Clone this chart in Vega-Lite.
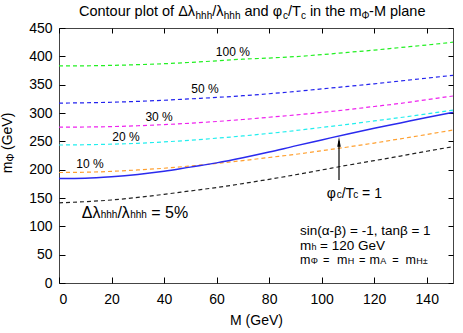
{
  "$schema": "https://vega.github.io/schema/vega-lite/v6.json",
  "width": 394,
  "height": 255,
  "autosize": {"type": "none"},
  "padding": {"left": 59, "top": 28, "right": 10, "bottom": 50},
  "background": "white",
  "config": {
    "view": {"stroke": "#444", "strokeWidth": 1},
    "text": {"font": "Liberation Sans", "color": "#000"}
  },
  "datasets": {
    "curves": [
      {"c": "100%", "M": 0, "V": 383}, {"c": "100%", "M": 10, "V": 383.3}, {"c": "100%", "M": 20, "V": 384}, {"c": "100%", "M": 30, "V": 385.3}, {"c": "100%", "M": 40, "V": 387}, {"c": "100%", "M": 50, "V": 389.3}, {"c": "100%", "M": 60, "V": 392}, {"c": "100%", "M": 70, "V": 395}, {"c": "100%", "M": 80, "V": 397}, {"c": "100%", "M": 90, "V": 399.5}, {"c": "100%", "M": 100, "V": 403}, {"c": "100%", "M": 110, "V": 407}, {"c": "100%", "M": 120, "V": 411}, {"c": "100%", "M": 130, "V": 415.5}, {"c": "100%", "M": 140, "V": 420}, {"c": "100%", "M": 150, "V": 425},
      {"c": "50%", "M": 0, "V": 317.5}, {"c": "50%", "M": 10, "V": 318}, {"c": "50%", "M": 20, "V": 319}, {"c": "50%", "M": 30, "V": 320.5}, {"c": "50%", "M": 40, "V": 322.5}, {"c": "50%", "M": 50, "V": 325}, {"c": "50%", "M": 60, "V": 327.5}, {"c": "50%", "M": 70, "V": 330.5}, {"c": "50%", "M": 80, "V": 334}, {"c": "50%", "M": 90, "V": 338}, {"c": "50%", "M": 100, "V": 342.5}, {"c": "50%", "M": 110, "V": 347}, {"c": "50%", "M": 120, "V": 351.5}, {"c": "50%", "M": 130, "V": 356.5}, {"c": "50%", "M": 140, "V": 361.5}, {"c": "50%", "M": 150, "V": 366.5},
      {"c": "30%", "M": 0, "V": 275}, {"c": "30%", "M": 10, "V": 275.3}, {"c": "30%", "M": 20, "V": 276}, {"c": "30%", "M": 30, "V": 277.5}, {"c": "30%", "M": 40, "V": 279.5}, {"c": "30%", "M": 50, "V": 282}, {"c": "30%", "M": 60, "V": 285}, {"c": "30%", "M": 70, "V": 288.5}, {"c": "30%", "M": 80, "V": 292.5}, {"c": "30%", "M": 90, "V": 296.5}, {"c": "30%", "M": 100, "V": 301}, {"c": "30%", "M": 110, "V": 306}, {"c": "30%", "M": 120, "V": 311.5}, {"c": "30%", "M": 130, "V": 317}, {"c": "30%", "M": 140, "V": 323.5}, {"c": "30%", "M": 150, "V": 330},
      {"c": "20%", "M": 0, "V": 243.5}, {"c": "20%", "M": 10, "V": 244}, {"c": "20%", "M": 20, "V": 245}, {"c": "20%", "M": 30, "V": 246.5}, {"c": "20%", "M": 40, "V": 249}, {"c": "20%", "M": 50, "V": 252}, {"c": "20%", "M": 60, "V": 255.5}, {"c": "20%", "M": 70, "V": 259.5}, {"c": "20%", "M": 80, "V": 264}, {"c": "20%", "M": 90, "V": 269}, {"c": "20%", "M": 100, "V": 274.5}, {"c": "20%", "M": 110, "V": 280}, {"c": "20%", "M": 120, "V": 286}, {"c": "20%", "M": 130, "V": 292}, {"c": "20%", "M": 140, "V": 298.5}, {"c": "20%", "M": 150, "V": 305},
      {"c": "10%", "M": 0, "V": 195}, {"c": "10%", "M": 10, "V": 195.5}, {"c": "10%", "M": 20, "V": 197}, {"c": "10%", "M": 30, "V": 199.5}, {"c": "10%", "M": 40, "V": 202.5}, {"c": "10%", "M": 50, "V": 206.5}, {"c": "10%", "M": 60, "V": 211}, {"c": "10%", "M": 70, "V": 216}, {"c": "10%", "M": 80, "V": 221.5}, {"c": "10%", "M": 90, "V": 227}, {"c": "10%", "M": 100, "V": 233.5}, {"c": "10%", "M": 110, "V": 240}, {"c": "10%", "M": 120, "V": 247}, {"c": "10%", "M": 130, "V": 254.5}, {"c": "10%", "M": 140, "V": 262}, {"c": "10%", "M": 150, "V": 270},
      {"c": "5%", "M": 0, "V": 141.5}, {"c": "5%", "M": 10, "V": 143.5}, {"c": "5%", "M": 20, "V": 146.5}, {"c": "5%", "M": 30, "V": 151}, {"c": "5%", "M": 40, "V": 156.5}, {"c": "5%", "M": 50, "V": 162.5}, {"c": "5%", "M": 60, "V": 168.5}, {"c": "5%", "M": 70, "V": 175.5}, {"c": "5%", "M": 80, "V": 183}, {"c": "5%", "M": 90, "V": 191}, {"c": "5%", "M": 100, "V": 199.5}, {"c": "5%", "M": 110, "V": 208}, {"c": "5%", "M": 120, "V": 216}, {"c": "5%", "M": 130, "V": 224}, {"c": "5%", "M": 140, "V": 232.5}, {"c": "5%", "M": 150, "V": 240.5},
      {"c": "phi", "M": 0, "V": 184.5}, {"c": "phi", "M": 10, "V": 185}, {"c": "phi", "M": 20, "V": 187.5}, {"c": "phi", "M": 30, "V": 191.5}, {"c": "phi", "M": 40, "V": 197}, {"c": "phi", "M": 50, "V": 204.5}, {"c": "phi", "M": 60, "V": 212}, {"c": "phi", "M": 70, "V": 221}, {"c": "phi", "M": 80, "V": 231}, {"c": "phi", "M": 90, "V": 242}, {"c": "phi", "M": 100, "V": 252.5}, {"c": "phi", "M": 110, "V": 263}, {"c": "phi", "M": 120, "V": 273}, {"c": "phi", "M": 130, "V": 282.5}, {"c": "phi", "M": 140, "V": 292}, {"c": "phi", "M": 150, "V": 301}
    ]
  },
  "layer": [
    {
      "data": {"name": "curves"},
      "transform": [{"filter": "datum.c != 'phi'"}],
      "mark": {"type": "line", "strokeDash": [4, 3], "strokeWidth": 1.2, "interpolate": "monotone"},
      "encoding": {
        "x": {"field": "M", "type": "quantitative", "scale": {"domain": [0, 150], "nice": false, "zero": false},
          "axis": {"orient": "bottom", "values": [0, 20, 40, 60, 80, 100, 120, 140], "tickSize": -6, "labelPadding": 15, "domain": false, "grid": false, "labelFont": "Liberation Sans", "labelFontSize": 14, "labelColor": "#000", "tickColor": "#000", "title": "M (GeV)", "titleFont": "Liberation Sans", "titleFontSize": 14, "titleFontWeight": "normal", "titleColor": "#000", "titlePadding": 7}},
        "y": {"field": "V", "type": "quantitative", "scale": {"domain": [0, 450], "nice": false, "zero": false},
          "axis": {"orient": "left", "values": [0, 50, 100, 150, 200, 250, 300, 350, 400, 450], "tickSize": -6, "labelPadding": 13, "domain": false, "grid": false, "labelFont": "Liberation Sans", "labelFontSize": 14, "labelColor": "#000", "tickColor": "#000", "title": null}},
        "color": {"field": "c", "type": "nominal", "scale": {"domain": ["100%", "50%", "30%", "20%", "10%", "5%"], "range": ["#22f022", "#2222ee", "#ee22ee", "#22eeee", "#ffa030", "#222222"]}, "legend": null}
      }
    },
    {
      "data": {"name": "curves"},
      "transform": [{"filter": "datum.c == 'phi'"}],
      "mark": {"type": "line", "color": "#2a2aee", "strokeWidth": 1.5, "interpolate": "monotone"},
      "encoding": {
        "x": {"field": "M", "type": "quantitative", "scale": {"domain": [0, 150], "nice": false, "zero": false},
          "axis": {"orient": "top", "values": [0, 20, 40, 60, 80, 100, 120, 140], "tickSize": -5, "labels": false, "domain": false, "grid": false, "tickColor": "#000", "title": null}},
        "y": {"field": "V", "type": "quantitative", "scale": {"domain": [0, 450], "nice": false, "zero": false},
          "axis": {"orient": "right", "values": [0, 50, 100, 150, 200, 250, 300, 350, 400, 450], "tickSize": -5, "labels": false, "domain": false, "grid": false, "tickColor": "#000", "title": null}}
      }
    },
    {
      "data": {"values": [{"M": 106.6, "V1": 181.8, "V2": 250}]},
      "mark": {"type": "rule", "color": "#000", "strokeWidth": 1.2},
      "encoding": {
        "x": {"field": "M", "type": "quantitative", "axis": null},
        "y": {"field": "V1", "type": "quantitative", "axis": null},
        "y2": {"field": "V2"}
      }
    },
    {
      "data": {"values": [{"M": 106.6, "V": 249.4}]},
      "mark": {"type": "point", "shape": "M0,-1L-0.35,1L0.35,1Z", "size": 100, "filled": true, "color": "#000", "opacity": 1},
      "encoding": {
        "x": {"field": "M", "type": "quantitative", "axis": null},
        "y": {"field": "V", "type": "quantitative", "axis": null}
      }
    },
    {
      "data": {"values": [
        {"t": "100 %", "M": 66.2, "V": 407.6}, {"t": "50 %", "M": 55.6, "V": 342.4}, {"t": "30 %", "M": 38.1, "V": 293}, {"t": "20 %", "M": 25.5, "V": 257.6}, {"t": "10 %", "M": 11.8, "V": 210.5}
      ]},
      "mark": {"type": "text", "fontSize": 12, "align": "center", "baseline": "middle", "font": "Liberation Sans"},
      "encoding": {
        "x": {"field": "M", "type": "quantitative", "axis": null},
        "y": {"field": "V", "type": "quantitative", "axis": null},
        "text": {"field": "t"}
      }
    },
    {
      "data": {"values": [
        {"t": "Contour plot of Δλ", "M": 7.61, "V": 471.7}, {"t": "/λ", "M": 58.32, "V": 471.7}, {"t": "and φ", "M": 70.62, "V": 471.7}, {"t": "/T", "M": 87.18, "V": 471.7}, {"t": "in the m", "M": 95.52, "V": 471.7}, {"t": "-M plane", "M": 118.05, "V": 471.7}
      ]},
      "mark": {"type": "text", "fontSize": 14.5, "align": "left", "baseline": "alphabetic", "font": "Liberation Sans"},
      "encoding": {
        "x": {"field": "M", "type": "quantitative", "axis": null},
        "y": {"field": "V", "type": "quantitative", "axis": null},
        "text": {"field": "t"}
      }
    },
    {
      "data": {"values": [
        {"t": "φ", "M": 101.9, "V": 150.5}, {"t": "/T", "M": 107.6, "V": 150.5}, {"t": "= 1", "M": 115.4, "V": 150.5}
      ]},
      "mark": {"type": "text", "fontSize": 14, "align": "left", "baseline": "alphabetic", "font": "Liberation Sans"},
      "encoding": {
        "x": {"field": "M", "type": "quantitative", "axis": null},
        "y": {"field": "V", "type": "quantitative", "axis": null},
        "text": {"field": "t"}
      }
    },
    {
      "data": {"values": [
        {"t": "hhh", "M": 51.97, "V": 465.3}, {"t": "hhh", "M": 62.74, "V": 465.3}, {"t": "c", "M": 85.28, "V": 465.3}, {"t": "c", "M": 92.09, "V": 465.3}, {"t": "Φ", "M": 115.16, "V": 465.3},
        {"t": "hhh", "M": 15.88, "V": 114.1}, {"t": "hhh", "M": 27.1, "V": 114.1},
        {"t": "c", "M": 105.7, "V": 150.5}, {"t": "c", "M": 112.0, "V": 150.5}
      ]},
      "mark": {"type": "text", "fontSize": 10, "align": "left", "baseline": "alphabetic", "font": "Liberation Sans"},
      "encoding": {
        "x": {"field": "M", "type": "quantitative", "axis": null},
        "y": {"field": "V", "type": "quantitative", "axis": null},
        "text": {"field": "t"}
      }
    },
    {
      "data": {"values": [
        {"t": "Δλ", "M": 8.64, "V": 114.1}, {"t": "/λ", "M": 22.23, "V": 114.1}, {"t": "= 5%", "M": 35.14, "V": 114.1}
      ]},
      "mark": {"type": "text", "fontSize": 16, "align": "left", "baseline": "alphabetic", "font": "Liberation Sans"},
      "encoding": {
        "x": {"field": "M", "type": "quantitative", "axis": null},
        "y": {"field": "V", "type": "quantitative", "axis": null},
        "text": {"field": "t"}
      }
    },
    {
      "data": {"values": [
        {"t": "sin(α-β) = -1, tanβ = 1", "M": 91.75, "V": 85.5},
        {"t": "m", "M": 91.75, "V": 58.5}, {"t": "= 120 GeV", "M": 99.4, "V": 58.5}
      ]},
      "mark": {"type": "text", "fontSize": 13.5, "align": "left", "baseline": "alphabetic", "font": "Liberation Sans"},
      "encoding": {
        "x": {"field": "M", "type": "quantitative", "axis": null},
        "y": {"field": "V", "type": "quantitative", "axis": null},
        "text": {"field": "t"}
      }
    },
    {
      "data": {"values": [
        {"t": "m", "M": 91.75, "V": 33.5}, {"t": "m", "M": 105.8, "V": 33.5}, {"t": "m", "M": 118.2, "V": 33.5}, {"t": "m", "M": 131.9, "V": 33.5}
      ]},
      "mark": {"type": "text", "fontSize": 12.5, "align": "left", "baseline": "alphabetic", "font": "Liberation Sans"},
      "encoding": {
        "x": {"field": "M", "type": "quantitative", "axis": null},
        "y": {"field": "V", "type": "quantitative", "axis": null},
        "text": {"field": "t"}
      }
    },
    {
      "data": {"values": [
        {"t": "=", "M": 100.5, "V": 33.5}, {"t": "=", "M": 114.2, "V": 33.5}, {"t": "=", "M": 126.9, "V": 33.5}
      ]},
      "mark": {"type": "text", "fontSize": 11, "align": "left", "baseline": "alphabetic", "font": "Liberation Sans"},
      "encoding": {
        "x": {"field": "M", "type": "quantitative", "axis": null},
        "y": {"field": "V", "type": "quantitative", "axis": null},
        "text": {"field": "t"}
      }
    },
    {
      "data": {"values": [
        {"t": "h", "M": 96.13, "V": 58.5}, {"t": "Φ", "M": 95.8, "V": 33.5}, {"t": "H", "M": 109.9, "V": 33.5}, {"t": "A", "M": 122.3, "V": 33.5}, {"t": "H±", "M": 136.0, "V": 33.5}
      ]},
      "mark": {"type": "text", "fontSize": 9, "align": "left", "baseline": "alphabetic", "font": "Liberation Sans"},
      "encoding": {
        "x": {"field": "M", "type": "quantitative", "axis": null},
        "y": {"field": "V", "type": "quantitative", "axis": null},
        "text": {"field": "t"}
      }
    },
    {
      "data": {"values": [
        {"t": "m", "M": -18.08, "V": 193.6}, {"t": "(GeV)", "M": -18.08, "V": 234.7}
      ]},
      "mark": {"type": "text", "fontSize": 14, "angle": 270, "align": "left", "baseline": "alphabetic", "font": "Liberation Sans"},
      "encoding": {
        "x": {"field": "M", "type": "quantitative", "axis": null},
        "y": {"field": "V", "type": "quantitative", "axis": null},
        "text": {"field": "t"}
      }
    },
    {
      "data": {"values": [
        {"t": "Φ", "M": -17.1, "V": 214.2}
      ]},
      "mark": {"type": "text", "fontSize": 10, "angle": 270, "align": "left", "baseline": "alphabetic", "font": "Liberation Sans"},
      "encoding": {
        "x": {"field": "M", "type": "quantitative", "axis": null},
        "y": {"field": "V", "type": "quantitative", "axis": null},
        "text": {"field": "t"}
      }
    }
  ],
  "resolve": {"axis": {"x": "independent", "y": "independent"}}
}
